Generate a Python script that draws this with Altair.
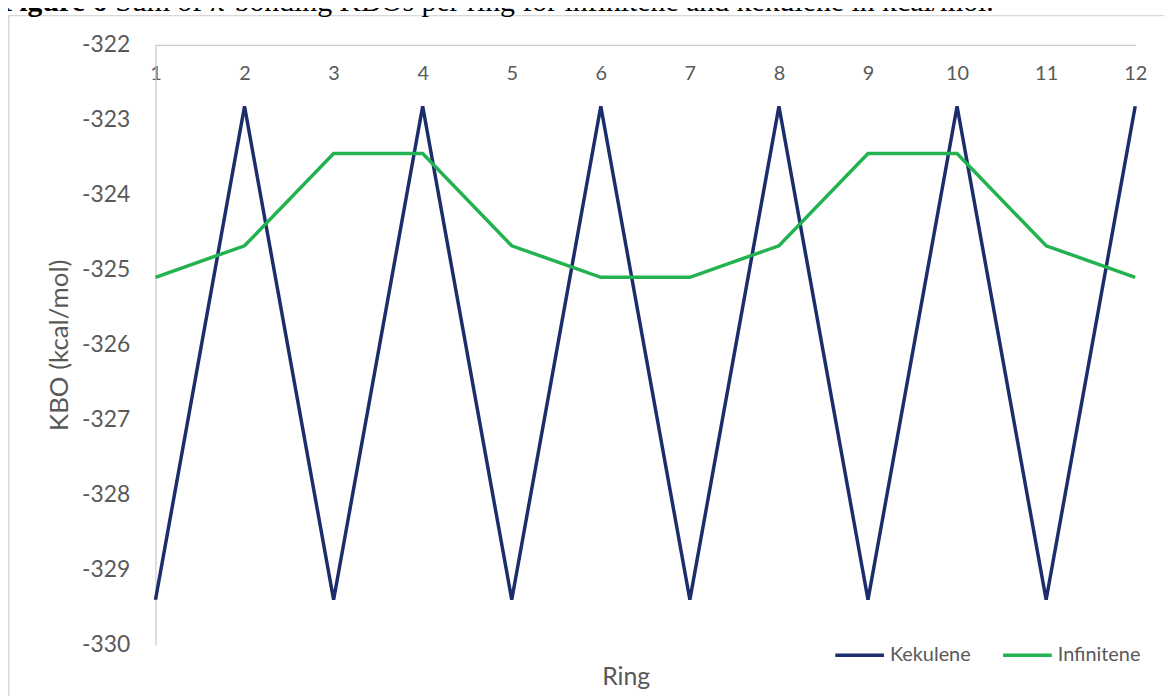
import altair as alt
import pandas as pd

# ---- data ----
rings = [1, 2, 3, 4, 5, 6, 7, 8, 9, 10, 11, 12]
kekulene = [-329.40, -322.82, -329.40, -322.82, -329.40, -322.82,
            -329.40, -322.82, -329.40, -322.82, -329.40, -322.82]
infinitene = [-325.10, -324.68, -323.45, -323.45, -324.68, -325.10,
              -325.10, -324.68, -323.45, -323.45, -324.68, -325.10]
series = ["Kekulene", "Infinitene"]
colors = ["#1b2d6b", "#22b24f"]
y_ticks = [-330, -329, -328, -327, -326, -325, -324, -323, -322]
title_bold = "Figure 6"
title_rest = "Sum of π-bonding KBOs per ring for infinitene and kekulene in kcal/mol."

rows = []
for r, k, i in zip(rings, kekulene, infinitene):
    rows.append({"Ring": r, "KBO": k, "Series": "Kekulene"})
    rows.append({"Ring": r, "KBO": i, "Series": "Infinitene"})
df = pd.DataFrame(rows)

FONT = "Lato"
GREY = "#595959"
AXIS_GREY = "#c9c9c9"

W, H = 986.5, 604

lines = alt.Chart(df).mark_line(strokeWidth=3.5, strokeJoin="miter").encode(
    x=alt.X(
        "Ring:Q",
        scale=alt.Scale(domain=[1, 12], nice=False, zero=False),
        axis=alt.Axis(
            orient="top", values=rings, title="Ring", format="d",
            labelFlush=False, ticks=False, tickSize=0, grid=False,
            labelPadding=-29, labelBaseline="middle", labelFontSize=20,
            labelFont=FONT, labelColor=GREY,
            domainColor=AXIS_GREY, domainWidth=1.2,
            titleX=473.5, titleY=644, titleBaseline="alphabetic",
            titleAlign="center", titleFontSize=25, titleFontWeight="normal",
            titleFont=FONT, titleColor=GREY,
        ),
    ),
    y=alt.Y(
        "KBO:Q",
        scale=alt.Scale(domain=[-330, -322], nice=False, zero=False),
        axis=alt.Axis(
            values=y_ticks, title="KBO (kcal/mol)", ticks=False, tickSize=0,
            labelExpr="'-' + format(abs(datum.value), 'd')",
            grid=False, labelPadding=26, labelFontSize=23, labelFont=FONT,
            labelColor=GREY, domainColor=AXIS_GREY, domainWidth=1.2,
            titleX=-97, titleY=H / 2, titleAngle=270, titleAlign="center",
            titleBaseline="middle", titleFontSize=26, titleFontWeight="normal",
            titleFont=FONT, titleColor=GREY,
        ),
    ),
    color=alt.Color(
        "Series:N",
        scale=alt.Scale(domain=series, range=colors),
        sort=series,
        legend=alt.Legend(
            title=None, orient="none", legendX=682.5, legendY=588,
            direction="horizontal", symbolType="stroke", symbolSize=2401,
            symbolStrokeWidth=3.5, labelFontSize=20, labelFont=FONT,
            labelColor=GREY, labelOffset=4, columnPadding=25,
        ),
    ),
    detail="Series:N",
)

frame_df = pd.DataFrame({"f": [0]})
frame = alt.Chart(frame_df).mark_rect(
    fillOpacity=0, stroke="#d9d9d9", strokeWidth=1.5
).encode(
    x=alt.value(-147.75), y=alt.value(-29.4),
    x2=alt.value(1200), y2=alt.value(700),
)

t1 = alt.Chart(pd.DataFrame({"t": [title_bold]})).mark_text(
    align="left", baseline="alphabetic", font="Liberation Serif",
    fontSize=30, fontWeight="bold", color="black",
).encode(x=alt.value(-155.5), y=alt.value(-33.7), text="t:N")

t2 = alt.Chart(pd.DataFrame({"t": [title_rest]})).mark_text(
    align="left", baseline="alphabetic", font="Liberation Serif",
    fontSize=30, fontWeight="normal", color="black",
).encode(x=alt.value(-155.5 + 115), y=alt.value(-33.7), text="t:N")

chart = alt.layer(frame, lines, t1, t2).properties(
    width=W, height=H,
    autosize=alt.AutoSizeParams(type="none"),
    padding={"left": 148.5, "top": 34.7, "right": 29, "bottom": 49.3},
    background="white",
).configure_view(stroke=None)

chart.save("out.html", embed_options={"renderer": "svg", "actions": False})
